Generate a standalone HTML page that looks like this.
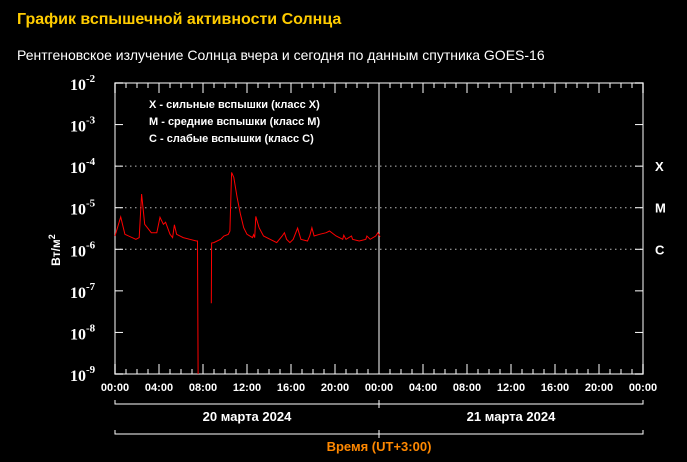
<!DOCTYPE html>
<html><head><meta charset="utf-8"><style>
body{margin:0;background:#000;width:687px;height:462px;overflow:hidden;font-family:"Liberation Sans",sans-serif}
#t{position:absolute;left:17px;top:11px;color:#ffcc00;font-weight:bold;font-size:16px}
#s{position:absolute;left:17px;top:47px;color:#fff;font-size:14px}
</style></head><body>
<div id="t">График вспышечной активности Солнца</div>
<div id="s">Рентгеновское излучение Солнца вчера и сегодня по данным спутника GOES-16</div>
<svg id="c" width="687" height="462" style="position:absolute;left:0;top:0"></svg>
<script>
const hours=[0,0.52,0.9,1.9,2.2,2.42,2.7,3.3,3.8,4.09,4.4,4.6,5.0,5.24,5.4,5.6,6.2,6.8,7.4,7.5,7.55,null,8.75,8.78,8.98,9.6,9.9,10.3,10.45,10.6,10.8,11.1,11.4,11.7,12.0,12.5,12.6,12.7,12.8,13.1,13.5,14.1,14.7,15.2,15.4,15.6,15.9,16.2,16.6,16.9,17.5,17.7,17.9,18.1,18.6,19.2,19.5,20.1,20.7,20.8,21.0,21.5,21.6,22.2,22.8,22.9,23.2,23.7,23.9,24.1];
const fluxExp=[-5.68,-5.22,-5.64,-5.76,-5.72,-4.67,-5.40,-5.60,-5.60,-5.23,-5.40,-5.35,-5.64,-5.72,-5.41,-5.64,-5.72,-5.76,-5.80,-5.80,-9.2,null,-7.3,-5.85,-5.84,-5.76,-5.68,-5.64,-5.56,-4.15,-4.27,-4.75,-5.15,-5.48,-5.64,-5.72,-5.65,-5.72,-5.21,-5.48,-5.68,-5.76,-5.84,-5.68,-5.60,-5.76,-5.84,-5.76,-5.49,-5.76,-5.80,-5.68,-5.48,-5.68,-5.64,-5.60,-5.56,-5.68,-5.76,-5.66,-5.76,-5.68,-5.76,-5.80,-5.76,-5.68,-5.76,-5.68,-5.60,-5.70];
const decades=[-2,-3,-4,-5,-6,-7,-8,-9];
const timeLabels=["00:00","04:00","08:00","12:00","16:00","20:00","00:00","04:00","08:00","12:00","16:00","20:00","00:00"];
const classes=[["X",-4],["M",-5],["C",-6]];
const L=115,R=643,T=83,B=374;
const xs=h=>L+(R-L)*h/48, ys=e=>T+(B-T)*(-2-e)/7;
const svg=document.getElementById('c');const NS='http://www.w3.org/2000/svg';
function mk(tag,at,txt){const e=document.createElementNS(NS,tag);for(const k in at)e.setAttribute(k,at[k]);if(txt!=null)e.textContent=txt;svg.appendChild(e);return e;}
let e=mk('rect',{x:L,y:T,width:R-L,height:B-T,fill:'none',stroke:'#aaa','stroke-width':1.5});

e=mk('line',{x1:xs(24),x2:xs(24),y1:T,y2:B,stroke:'#fff'});

classes.forEach(c=>{
 e=mk('line',{x1:L,x2:R,y1:ys(c[1]),y2:ys(c[1]),stroke:'#bbb','stroke-dasharray':'1.5,3.5'});
 
 e=mk('text',{x:655,y:ys(c[1])+5,fill:'#fff','font-size':13,'font-weight':'bold'},c[0]);
 
});
decades.forEach(d=>{const y=ys(d);
 mk('line',{x1:L,x2:L+8,y1:y,y2:y,stroke:'#fff'});mk('line',{x1:R-8,x2:R,y1:y,y2:y,stroke:'#fff'});
 e=mk('text',{x:70,y:y+7,fill:'#fff','font-size':16,'font-weight':'bold','font-family':'Liberation Serif'});
 e.innerHTML='10<tspan dy="-8" font-size="11">'+d+'</tspan>';
 
});
for(let h=0;h<=48;h++){const x=xs(h),len=h%4==0?10:5;
 mk('line',{x1:x,x2:x,y1:B,y2:B-len,stroke:'#fff'});mk('line',{x1:x,x2:x,y1:T,y2:T+len,stroke:'#fff'});}
timeLabels.forEach((t,i)=>{e=mk('text',{x:xs(i*4),y:391,fill:'#fff','font-size':11,'font-weight':'bold','text-anchor':'middle'},t);
 });
[404,434].forEach(y=>{mk('path',{d:`M${L} ${y-4}V${y}H${R}V${y-4}M${xs(24)} ${y-4}V${y+4}`,fill:'none',stroke:'#fff'});});
e=mk('text',{x:xs(12),y:421,fill:'#fff','font-size':13,'font-weight':'bold','text-anchor':'middle'},'20 марта 2024');

e=mk('text',{x:xs(36),y:421,fill:'#fff','font-size':13,'font-weight':'bold','text-anchor':'middle'},'21 марта 2024');

e=mk('text',{x:xs(24),y:451,fill:'#ff8800','font-size':13,'font-weight':'bold','text-anchor':'middle'},'Время (UT+3:00)');

e=mk('text',{x:0,y:0,fill:'#fff','font-size':12,'font-weight':'bold','text-anchor':'middle',transform:'translate(60,250) rotate(-90)'});
e.innerHTML='Вт/м<tspan dy="-5" font-size="9">2</tspan>';

["X  - сильные вспышки (класс X)","M  - средние вспышки (класс M)","C  - слабые вспышки (класс C)"].forEach((t,i)=>{
 e=mk('text',{x:149,y:108+i*17,fill:'#fff','font-size':11,'font-weight':'bold','xml:space':'preserve'},t);
 });
let d='',pen=false;
hours.forEach((h,i)=>{if(h===null||fluxExp[i]===null){pen=false;return;}
 const y=Math.min(B,ys(fluxExp[i]));d+=(pen?'L':'M')+xs(h).toFixed(1)+' '+y.toFixed(1);pen=true;});
e=mk('path',{d:d,fill:'none',stroke:'#ff0000','stroke-width':1});

</script>
</body></html>
